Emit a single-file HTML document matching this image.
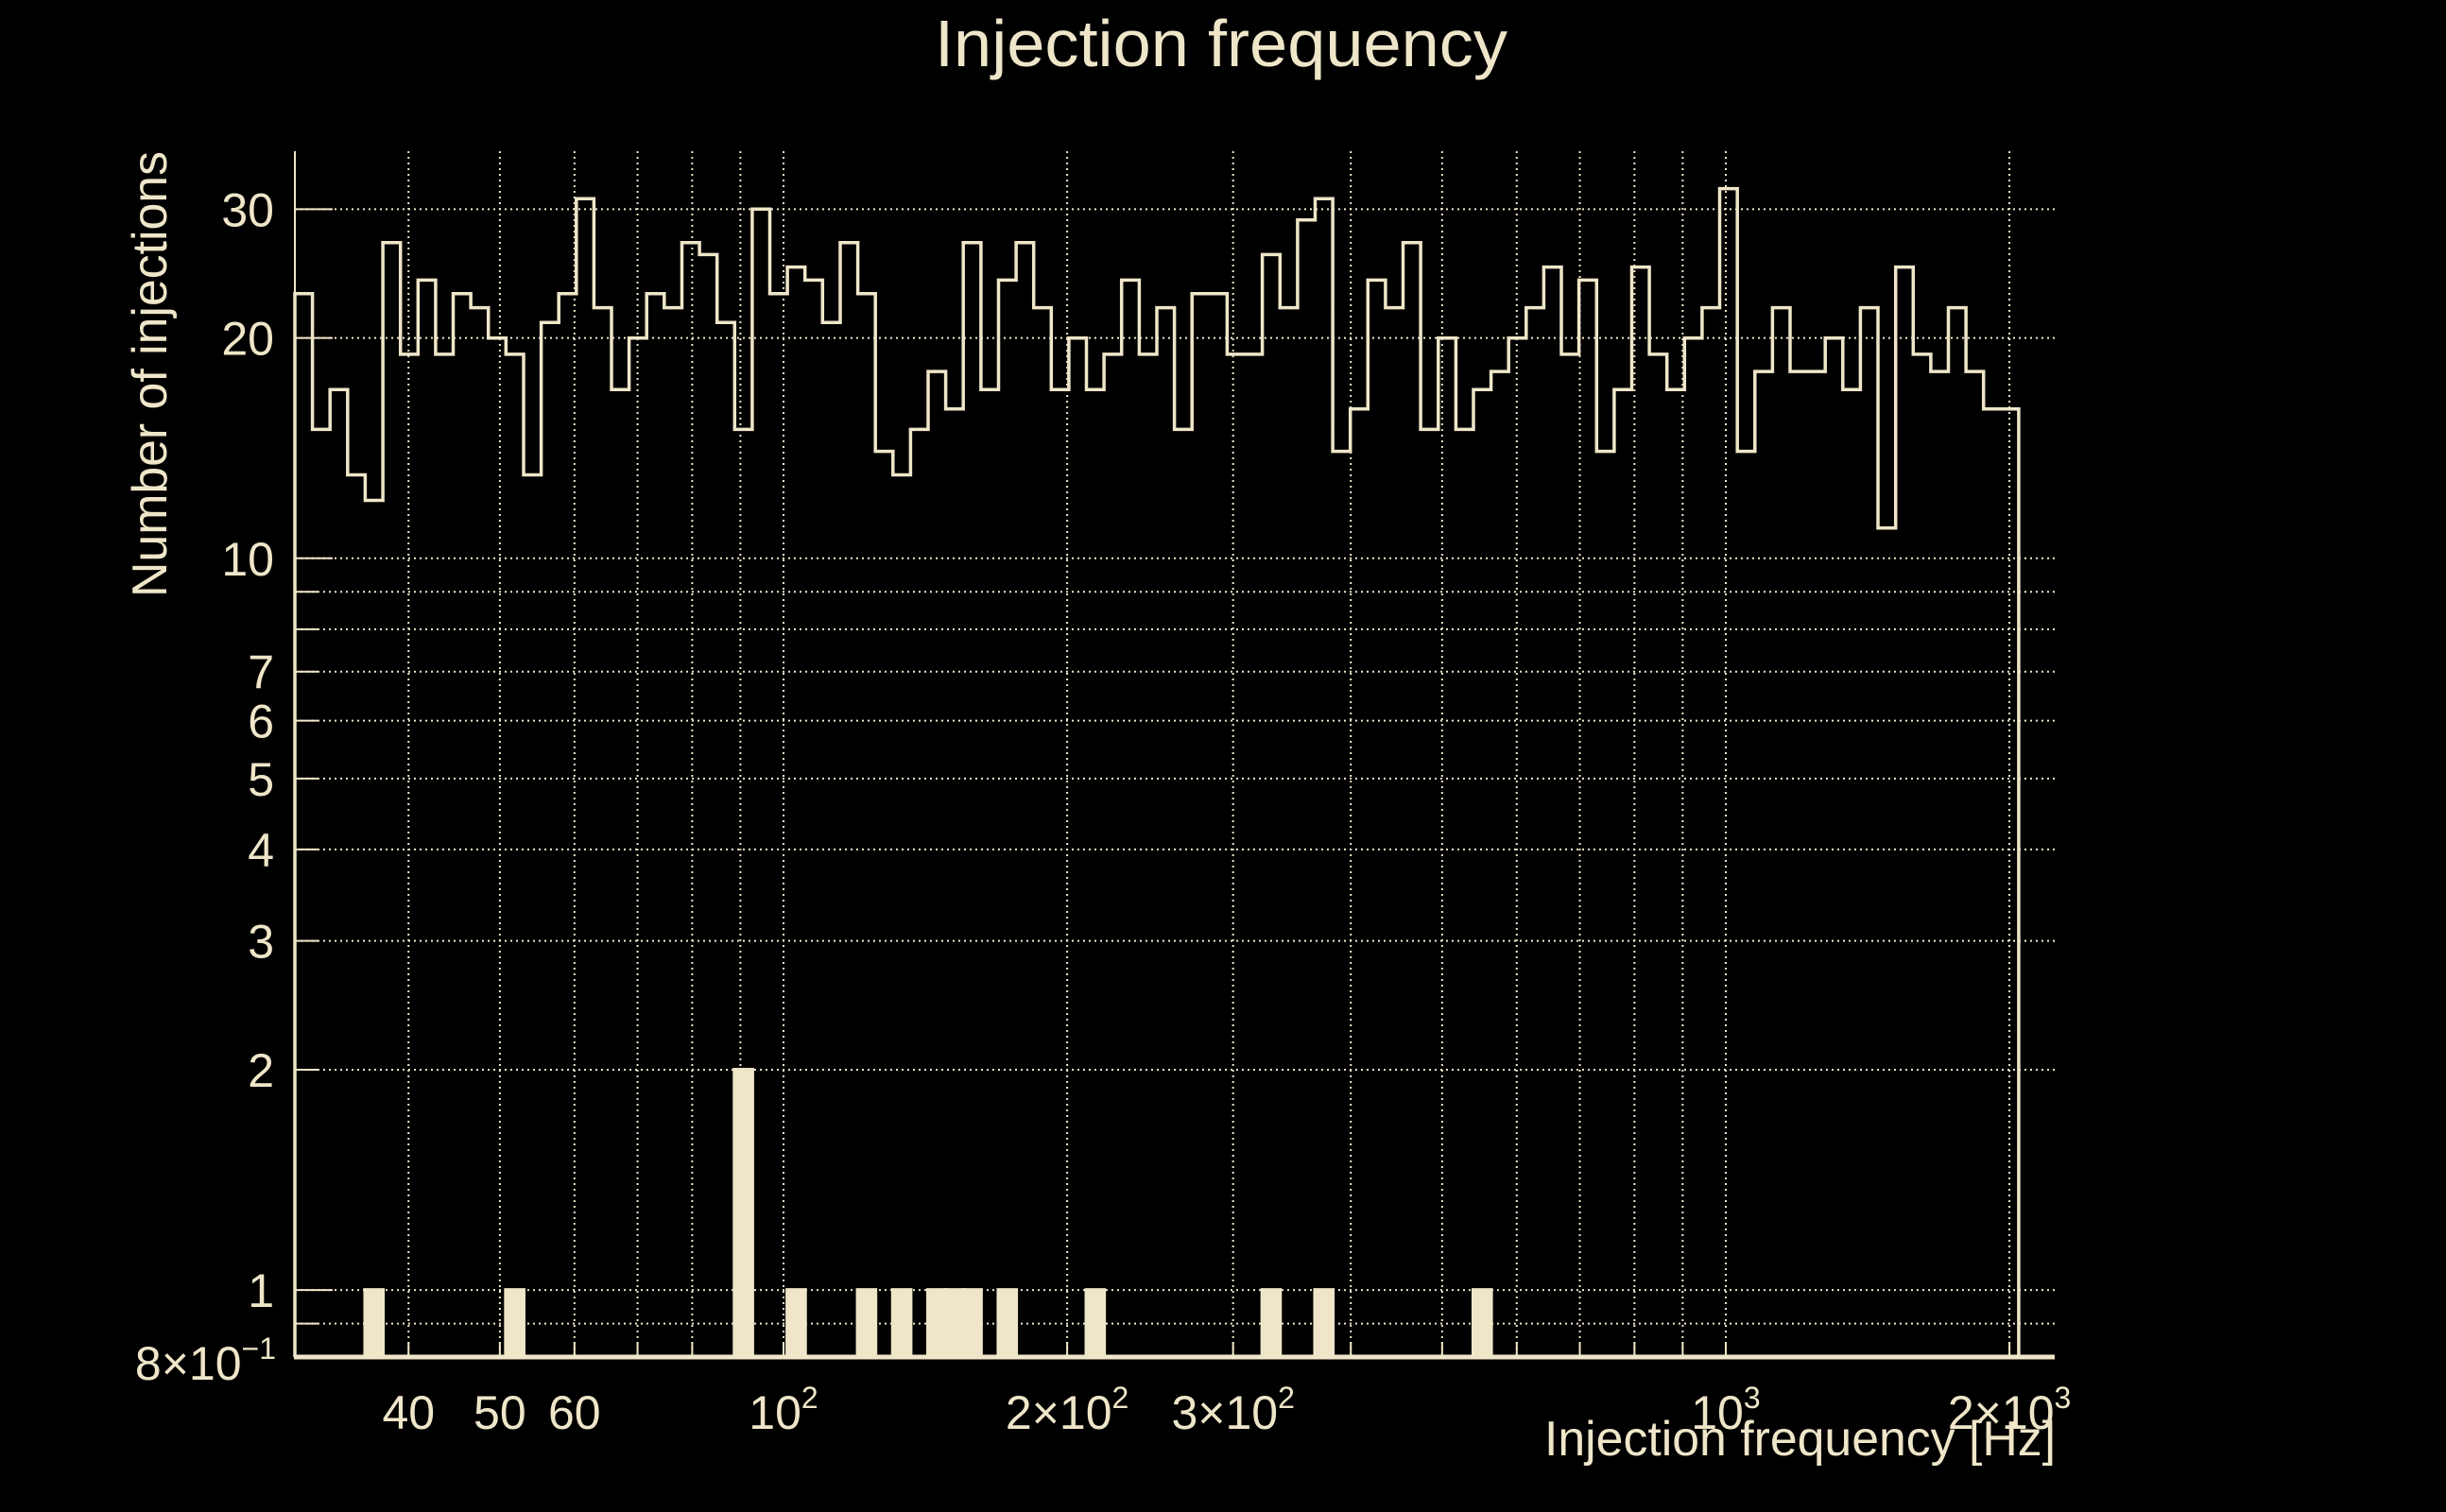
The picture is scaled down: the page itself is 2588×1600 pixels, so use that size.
<!DOCTYPE html>
<html><head><meta charset="utf-8"><style>
html,body{margin:0;padding:0;background:#000;}
svg{display:block;font-family:"Liberation Sans",sans-serif;}
</style></head><body>
<svg id="chart" width="2588" height="1600" viewBox="0 0 2588 1600">
<rect x="0" y="0" width="2588" height="1600" fill="#000"/>
<text x="1292" y="70" font-size="70" fill="#efe6c9" text-anchor="middle" textLength="606" lengthAdjust="spacingAndGlyphs">Injection frequency</text>
<g id="grid"></g>
<g id="marks"></g>
<g id="axes"></g>
<text transform="translate(176,632) rotate(-90)" font-size="52" fill="#efe6c9" textLength="472" lengthAdjust="spacingAndGlyphs">Number of injections</text>
<text x="2175" y="1540" font-size="52" fill="#efe6c9" text-anchor="end" textLength="541" lengthAdjust="spacingAndGlyphs">Injection frequency [Hz]</text>
</svg>
<script>
// ---- data ----
const binMin = 30.3;
const binMax = 2046;
const allCounts = [23,15,17,13,12,27,19,24,19,23,22,20,19,13,21,23,31,22,17,20,23,22,27,26,21,
15,30,23,25,24,21,27,23,14,13,15,18,16,27,17,24,27,22,17,20,17,19,24,19,22,
15,23,23,19,19,26,22,29,31,14,16,24,22,27,15,20,15,17,18,20,22,25,19,24,14,
17,25,19,17,20,22,32,14,18,22,18,18,20,17,22,11,25,19,18,22,18,16,16];
const foundCounts = [0,0,0,0,1,0,0,0,0,0,0,0,1,0,0,0,0,0,0,0,0,0,0,0,0,
2,0,0,1,0,0,0,1,0,1,0,1,1,1,0,1,0,0,0,0,1,0,0,0,0,
0,0,0,0,0,1,0,0,1,0,0,0,0,0,0,0,0,1,0,0,0,0,0,0,0,
0,0,0,0,0,0,0,0,0,0,0,0,0,0,0,0,0,0,0,0,0,0,0];
const yTickValues = [30,20,10,7,6,5,4,3,2,1];
const yTickLabels = ["30","20","10","7","6","5","4","3","2","1"];
const yGridValues = [30,20,10,9,8,7,6,5,4,3,2,1,0.9];
const xGridValues = [40,50,60,70,80,90,100,200,300,400,500,600,700,800,900,1000,2000];
const xTickValues = [40,50,60,100,200,300,1000,2000];
const xTickMain = ["40","50","60","10","2×10","3×10","10","2×10"];
const xTickSup = ["","","","2","2","2","3","3"];

// ---- axes ----
const NS = "http://www.w3.org/2000/svg";
const C = "#efe6c9";
const L = 312, R = 2174, T = 160, B = 1436;
const xMin = 30.3, xMax = 2234, yMin = 0.81, yMax = 36;
function xs(v){ return L + (Math.log10(v) - Math.log10(xMin)) / (Math.log10(xMax) - Math.log10(xMin)) * (R - L); }
function ys(v){ return B - (Math.log10(v) - Math.log10(yMin)) / (Math.log10(yMax) - Math.log10(yMin)) * (B - T); }
function mk(tag, attrs, parent){ const e = document.createElementNS(NS, tag); for (const k in attrs) e.setAttribute(k, attrs[k]); parent.appendChild(e); return e; }
const grid = document.getElementById('grid');
const marks = document.getElementById('marks');
const axes = document.getElementById('axes');
const svg = document.getElementById('chart');

const nBins = allCounts.length;
function edge(i){ return Math.pow(10, Math.log10(binMin) + i * (Math.log10(binMax) - Math.log10(binMin)) / nBins); }

// grid
yGridValues.forEach(v => {
  const y = ys(v);
  const g = mk('line', {x1:L, x2:R, y1:y, y2:y, stroke:C, 'stroke-width':2, 'stroke-dasharray':'2 4'}, grid);
  
  
  const major = yTickValues.indexOf(v) >= 0 && v >= 10 || v === 1;
  const t = mk('line', {x1:L, x2:L + (major ? 40 : 24), y1:y, y2:y, stroke:C, 'stroke-width':2}, grid);
  
  
});
xGridValues.forEach(v => {
  const x = xs(v);
  const g = mk('line', {x1:x, x2:x, y1:T, y2:B, stroke:C, 'stroke-width':2, 'stroke-dasharray':'2 4'}, grid);
  
  
  const t = mk('line', {x1:x, x2:x, y1:B, y2:B - 16, stroke:C, 'stroke-width':2}, grid);
  
  
});

// found-injection bars
foundCounts.forEach((c, i) => {
  if (c <= 0) return;
  const x0 = xs(edge(i)), x1 = xs(edge(i + 1));
  const y = ys(c);
  const r = mk('rect', {x:x0, y:y, width:x1 - x0, height:B - y, fill:C, stroke:C, 'stroke-width':4, 'stroke-linejoin':'miter'}, marks);
  
  
});

// all-injections step histogram
let d = 'M' + xs(edge(0)).toFixed(1) + ',' + B;
allCounts.forEach((c, i) => {
  const y = ys(c).toFixed(1);
  d += ' V' + y + ' H' + xs(edge(i + 1)).toFixed(1);
});
d += ' V' + B;
const p = mk('path', {d:d, fill:'none', stroke:C, 'stroke-width':3.5, 'stroke-linejoin':'miter'}, marks);



// axis lines
const ax = mk('line', {x1:L - 1, x2:R, y1:B, y2:B, stroke:C, 'stroke-width':5}, axes);


const ay = mk('line', {x1:L, x2:L, y1:T, y2:B, stroke:C, 'stroke-width':2}, axes);



// y labels
yTickValues.forEach((v, i) => {
  const t = mk('text', {x:290, y:ys(v) + 18, 'font-size':50, fill:C, 'text-anchor':'end'}, axes);
  t.textContent = yTickLabels[i];
  
  
});
const yb = mk('text', {x:292, y:B + 24, 'font-size':50, fill:C, 'text-anchor':'end'}, axes);


yb.appendChild(document.createTextNode('8×10'));
const ybs = mk('tspan', {dy:-22, 'font-size':32}, yb);
ybs.textContent = '−1';

// x labels
xTickValues.forEach((v, i) => {
  const t = mk('text', {x:xs(v), y:1512, 'font-size':50, fill:C, 'text-anchor':'middle'}, axes);
  
  
  t.appendChild(document.createTextNode(xTickMain[i]));
  if (xTickSup[i]) {
    const s = mk('tspan', {dy:-22, 'font-size':32}, t);
    s.textContent = xTickSup[i];
  }
});
</script>
</body></html>
